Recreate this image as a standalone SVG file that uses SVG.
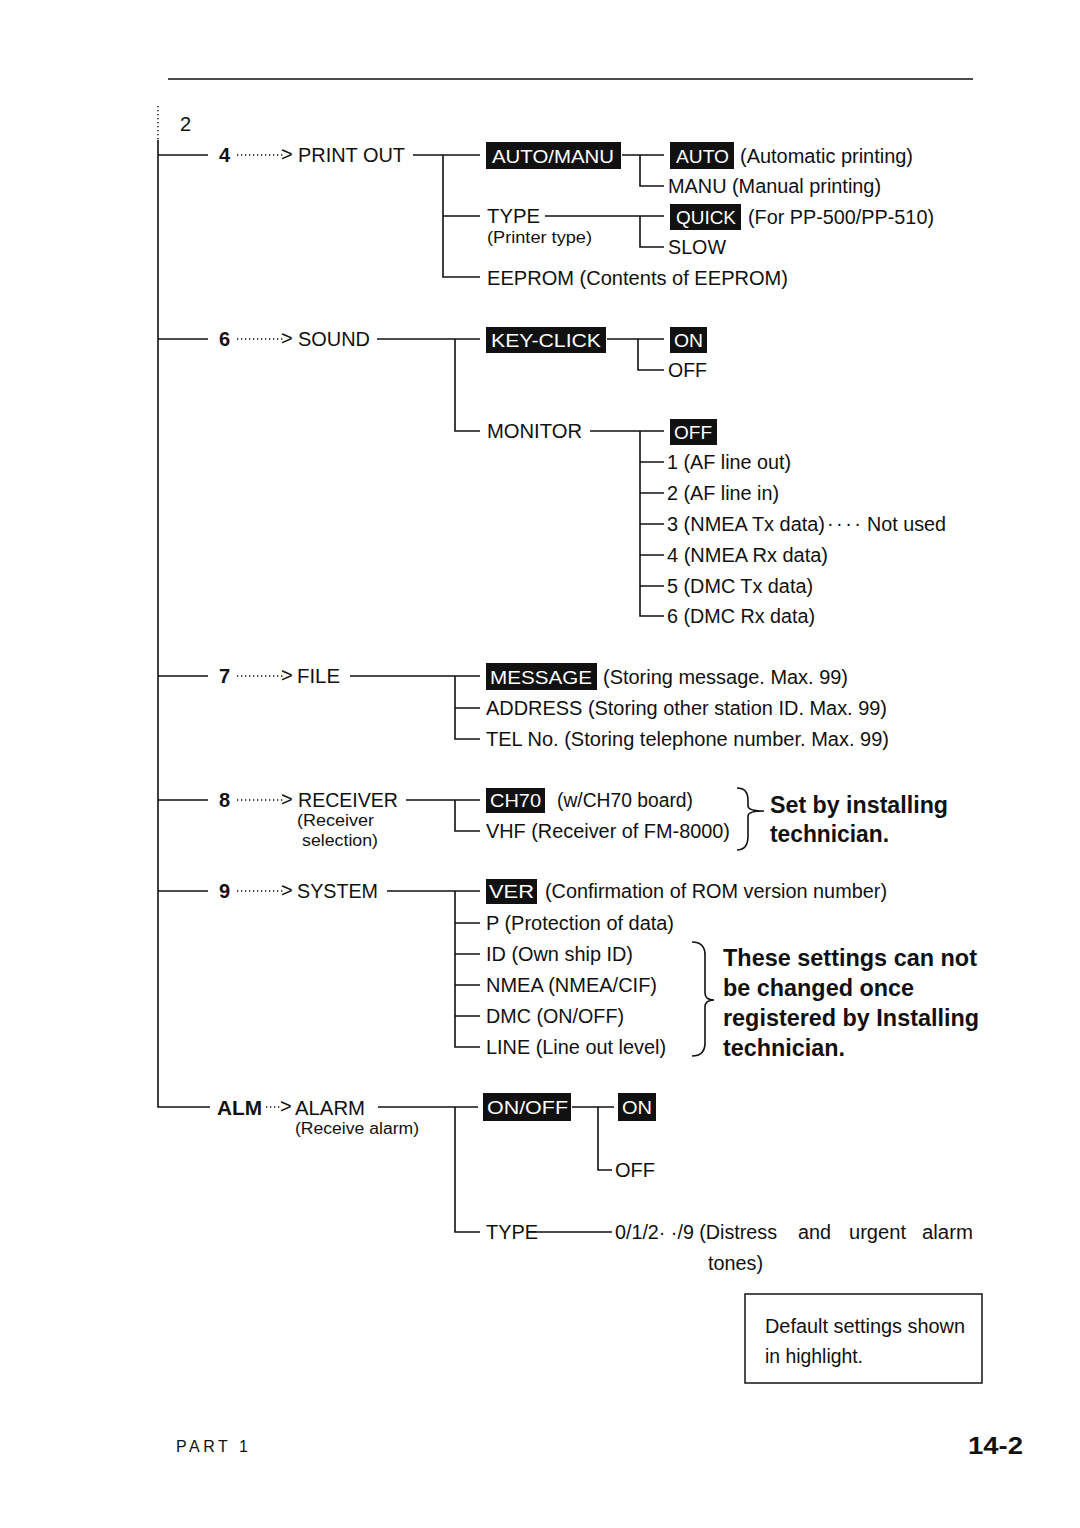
<svg xmlns="http://www.w3.org/2000/svg" width="1080" height="1528" viewBox="0 0 1080 1528">
<style>
text{font-family:"Liberation Sans",Arial,sans-serif;fill:#111}
.t{font-size:20px}
.s{font-size:16px}
.b{font-weight:bold}
.bb{font-size:23px;font-weight:bold}
.hl{fill:#111}
.ht{font-size:19px;fill:#fff}
.ln{stroke:#111;stroke-width:1.6;fill:none}
.dot{stroke:#111;stroke-width:1.5;stroke-dasharray:1.3 2.7;fill:none}
</style>
<rect width="1080" height="1528" fill="#fff"/>
<line class="ln" x1="168" y1="79" x2="973" y2="79" stroke-width="1.4"/>

<g id="connectors">
<line class="dot" x1="158" y1="106" x2="158" y2="140"/>
<path class="ln" d="M158,140 V1107 H210"/>
<path class="ln" d="M158,155 H208 M158,339 H208 M158,676 H208 M158,800 H208 M158,891 H208"/>
<!-- arrows -->
<path class="dot" d="M237,155 H284 M237,339 H284 M237,676 H284 M237,800 H284 M237,891 H284 M266,1107 H282"/>
<!-- print out -->
<path class="ln" d="M413,155 H480 M443,155 V277 H480 M443,216 H480"/>
<path class="ln" d="M622,155 H664 M640,155 V186 H664"/>
<path class="ln" d="M545,216 H664 M640,216 V247 H664"/>
<!-- sound -->
<path class="ln" d="M377,339 H480 M455,339 V431 H480"/>
<path class="ln" d="M607,339 H664 M638,339 V370 H664"/>
<path class="ln" d="M590,431 H664 M640,431 V616 H664 M640,462 H664 M640,493 H664 M640,524 H664 M640,555 H664 M640,586 H664"/>
<!-- file -->
<path class="ln" d="M350,676 H480 M455,676 V739 H480 M455,708 H480"/>
<!-- receiver -->
<path class="ln" d="M406,800 H480 M455,800 V831 H480"/>
<!-- system -->
<path class="ln" d="M387,891 H480 M455,891 V1047 H480 M455,923 H480 M455,954 H480 M455,985 H480 M455,1016 H480"/>
<!-- alarm -->
<path class="ln" d="M378,1107 H478 M455,1107 V1232 H480"/>
<path class="ln" d="M572,1107 H614 M598,1107 V1170 H612"/>
<path class="ln" d="M528,1232 H612"/>
<!-- braces -->
<path class="ln" d="M737,788 Q748,788 748,800 V806 Q748,811 764,811 Q748,811 748,816 V836 Q748,850 737,850" stroke-width="1.4"/>
<path class="ln" d="M692,942 Q705,942 705,955 V993 Q705,1000 714,1000 Q705,1000 705,1007 V1043 Q705,1056 692,1056" stroke-width="1.4"/>
</g>

<text class="t" x="180" y="131" font-size="18">2</text>

<g id="n-printout">
<text class="t b" x="219" y="162">4</text>
<text class="t" x="281" y="161" font-size="16">&gt;</text>
<text class="t" x="298" y="162" textLength="107" lengthAdjust="spacingAndGlyphs">PRINT OUT</text>
</g>
<g id="n-automanu">
<rect class="hl" x="486" y="142" width="135" height="27"/>
<text class="ht" x="492" y="163" textLength="122" lengthAdjust="spacingAndGlyphs">AUTO/MANU</text>
</g>
<g id="n-auto">
<rect class="hl" x="670" y="142" width="64" height="27"/>
<text class="ht" x="676" y="163" textLength="53" lengthAdjust="spacingAndGlyphs">AUTO</text>
<text class="t" x="740" y="163" textLength="173" lengthAdjust="spacingAndGlyphs">(Automatic printing)</text>
</g>
<g id="n-manu"><text class="t" x="668" y="193" textLength="213" lengthAdjust="spacingAndGlyphs">MANU (Manual printing)</text></g>
<g id="n-type">
<text class="t" x="487" y="223" textLength="53" lengthAdjust="spacingAndGlyphs">TYPE</text>
<text class="s" x="487" y="243" textLength="105" lengthAdjust="spacingAndGlyphs">(Printer type)</text>
</g>
<g id="n-quick">
<rect class="hl" x="670" y="204" width="71" height="26"/>
<text class="ht" x="676" y="224" textLength="60" lengthAdjust="spacingAndGlyphs">QUICK</text>
<text class="t" x="748" y="224" textLength="186" lengthAdjust="spacingAndGlyphs">(For PP-500/PP-510)</text>
</g>
<g id="n-slow"><text class="t" x="668" y="254" textLength="58" lengthAdjust="spacingAndGlyphs">SLOW</text></g>
<g id="n-eeprom"><text class="t" x="487" y="285" textLength="301" lengthAdjust="spacingAndGlyphs">EEPROM (Contents of EEPROM)</text></g>

<g id="n-sound">
<text class="t b" x="219" y="346">6</text>
<text class="t" x="281" y="345" font-size="16">&gt;</text>
<text class="t" x="298" y="346" textLength="72" lengthAdjust="spacingAndGlyphs">SOUND</text>
</g>
<g id="n-keyclick">
<rect class="hl" x="486" y="327" width="120" height="26"/>
<text class="ht" x="491" y="347" textLength="110" lengthAdjust="spacingAndGlyphs">KEY-CLICK</text>
</g>
<g id="n-kc-on">
<rect class="hl" x="670" y="327" width="37" height="26"/>
<text class="ht" x="674" y="347" textLength="29" lengthAdjust="spacingAndGlyphs">ON</text>
</g>
<g id="n-kc-off"><text class="t" x="668" y="377" textLength="39" lengthAdjust="spacingAndGlyphs">OFF</text></g>
<g id="n-monitor"><text class="t" x="487" y="438" textLength="95" lengthAdjust="spacingAndGlyphs">MONITOR</text></g>
<g id="n-mon-off">
<rect class="hl" x="670" y="419" width="47" height="26"/>
<text class="ht" x="674" y="439" textLength="38" lengthAdjust="spacingAndGlyphs">OFF</text>
</g>
<g id="n-mon-1"><text class="t" x="667" y="469" textLength="124" lengthAdjust="spacingAndGlyphs">1 (AF line out)</text></g>
<g id="n-mon-2"><text class="t" x="667" y="500" textLength="112" lengthAdjust="spacingAndGlyphs">2 (AF line in)</text></g>
<g id="n-mon-3"><text class="t" x="667" y="531" textLength="158" lengthAdjust="spacingAndGlyphs">3 (NMEA Tx data)</text><text class="t" x="827" y="530" font-size="16" textLength="34" lengthAdjust="spacing">· · · ·</text><text class="t" x="867" y="531" textLength="79" lengthAdjust="spacingAndGlyphs">Not used</text></g>
<g id="n-mon-4"><text class="t" x="667" y="562" textLength="161" lengthAdjust="spacingAndGlyphs">4 (NMEA Rx data)</text></g>
<g id="n-mon-5"><text class="t" x="667" y="593" textLength="146" lengthAdjust="spacingAndGlyphs">5 (DMC Tx data)</text></g>
<g id="n-mon-6"><text class="t" x="667" y="623" textLength="148" lengthAdjust="spacingAndGlyphs">6 (DMC Rx data)</text></g>

<g id="n-file">
<text class="t b" x="219" y="683">7</text>
<text class="t" x="281" y="682" font-size="16">&gt;</text>
<text class="t" x="297" y="683" textLength="43" lengthAdjust="spacingAndGlyphs">FILE</text>
</g>
<g id="n-message">
<rect class="hl" x="486" y="663" width="111" height="27"/>
<text class="ht" x="490" y="684" textLength="102" lengthAdjust="spacingAndGlyphs">MESSAGE</text>
<text class="t" x="603" y="684" textLength="245" lengthAdjust="spacingAndGlyphs">(Storing message. Max. 99)</text>
</g>
<g id="n-address"><text class="t" x="486" y="715" textLength="401" lengthAdjust="spacingAndGlyphs">ADDRESS (Storing other station ID. Max. 99)</text></g>
<g id="n-tel"><text class="t" x="486" y="746" textLength="403" lengthAdjust="spacingAndGlyphs">TEL No. (Storing telephone number. Max. 99)</text></g>

<g id="n-receiver">
<text class="t b" x="219" y="807">8</text>
<text class="t" x="281" y="806" font-size="16">&gt;</text>
<text class="t" x="298" y="807" textLength="100" lengthAdjust="spacingAndGlyphs">RECEIVER</text>
<text class="s" x="297" y="826" textLength="77" lengthAdjust="spacingAndGlyphs">(Receiver</text>
<text class="s" x="302" y="846" textLength="76" lengthAdjust="spacingAndGlyphs">selection)</text>
</g>
<g id="n-ch70">
<rect class="hl" x="486" y="788" width="59" height="25"/>
<text class="ht" x="490" y="807" textLength="51" lengthAdjust="spacingAndGlyphs">CH70</text>
<text class="t" x="557" y="807" textLength="136" lengthAdjust="spacingAndGlyphs">(w/CH70 board)</text>
</g>
<g id="n-vhf"><text class="t" x="486" y="838" textLength="244" lengthAdjust="spacingAndGlyphs">VHF (Receiver of FM-8000)</text></g>
<g id="n-note-receiver">
<text class="bb" x="770" y="813" textLength="178" lengthAdjust="spacingAndGlyphs">Set by installing</text>
<text class="bb" x="770" y="842" textLength="119" lengthAdjust="spacingAndGlyphs">technician.</text>
</g>

<g id="n-system">
<text class="t b" x="219" y="898">9</text>
<text class="t" x="281" y="897" font-size="16">&gt;</text>
<text class="t" x="297" y="898" textLength="81" lengthAdjust="spacingAndGlyphs">SYSTEM</text>
</g>
<g id="n-ver">
<rect class="hl" x="486" y="879" width="51" height="25"/>
<text class="ht" x="489" y="898" textLength="45" lengthAdjust="spacingAndGlyphs">VER</text>
<text class="t" x="545" y="898" textLength="342" lengthAdjust="spacingAndGlyphs">(Confirmation of ROM version number)</text>
</g>
<g id="n-p"><text class="t" x="486" y="930" textLength="188" lengthAdjust="spacingAndGlyphs">P (Protection of data)</text></g>
<g id="n-id"><text class="t" x="486" y="961" textLength="147" lengthAdjust="spacingAndGlyphs">ID (Own ship ID)</text></g>
<g id="n-nmea"><text class="t" x="486" y="992" textLength="171" lengthAdjust="spacingAndGlyphs">NMEA (NMEA/CIF)</text></g>
<g id="n-dmc"><text class="t" x="486" y="1023" textLength="138" lengthAdjust="spacingAndGlyphs">DMC (ON/OFF)</text></g>
<g id="n-line"><text class="t" x="486" y="1054" textLength="180" lengthAdjust="spacingAndGlyphs">LINE (Line out level)</text></g>
<g id="n-note-system">
<text class="bb" x="723" y="966" textLength="254" lengthAdjust="spacingAndGlyphs">These settings can not</text>
<text class="bb" x="723" y="996" textLength="191" lengthAdjust="spacingAndGlyphs">be changed once</text>
<text class="bb" x="723" y="1026" textLength="256" lengthAdjust="spacingAndGlyphs">registered by Installing</text>
<text class="bb" x="723" y="1056" textLength="122" lengthAdjust="spacingAndGlyphs">technician.</text>
</g>

<g id="n-alarm">
<text class="t b" x="217" y="1115" font-size="21" textLength="45" lengthAdjust="spacingAndGlyphs">ALM</text>
<text class="t" x="280" y="1113" font-size="16">&gt;</text>
<text class="t" x="295" y="1115" textLength="70" lengthAdjust="spacingAndGlyphs">ALARM</text>
<text class="s" x="295" y="1134" textLength="124" lengthAdjust="spacingAndGlyphs">(Receive alarm)</text>
</g>
<g id="n-onoff">
<rect class="hl" x="483" y="1093" width="88" height="28"/>
<text class="ht" x="487" y="1114" textLength="81" lengthAdjust="spacingAndGlyphs">ON/OFF</text>
</g>
<g id="n-alarm-on">
<rect class="hl" x="618" y="1093" width="38" height="28"/>
<text class="ht" x="622" y="1114" textLength="30" lengthAdjust="spacingAndGlyphs">ON</text>
</g>
<g id="n-alarm-off"><text class="t" x="615" y="1177" textLength="40" lengthAdjust="spacingAndGlyphs">OFF</text></g>
<g id="n-alarm-type">
<text class="t" x="486" y="1239" textLength="52" lengthAdjust="spacingAndGlyphs">TYPE</text>
<text class="t" x="615" y="1239" textLength="162" lengthAdjust="spacingAndGlyphs">0/1/2· ·/9 (Distress</text>
<text class="t" x="798" y="1239" textLength="33" lengthAdjust="spacingAndGlyphs">and</text>
<text class="t" x="849" y="1239" textLength="57" lengthAdjust="spacingAndGlyphs">urgent</text>
<text class="t" x="922" y="1239" textLength="51" lengthAdjust="spacingAndGlyphs">alarm</text>
<text class="t" x="708" y="1270" textLength="55" lengthAdjust="spacingAndGlyphs">tones)</text>
</g>

<g id="n-legend">
<rect x="745" y="1294" width="237" height="89" fill="none" stroke="#222" stroke-width="1.6"/>
<text class="t" x="765" y="1333" font-size="19" textLength="200" lengthAdjust="spacingAndGlyphs">Default settings shown</text>
<text class="t" x="765" y="1363" font-size="19" textLength="98" lengthAdjust="spacingAndGlyphs">in highlight.</text>
</g>

<text class="s" x="176" y="1452" textLength="72" lengthAdjust="spacing">PART 1</text>
<text class="b" x="968" y="1454" font-size="24" textLength="55" lengthAdjust="spacingAndGlyphs">14-2</text>
</svg>
